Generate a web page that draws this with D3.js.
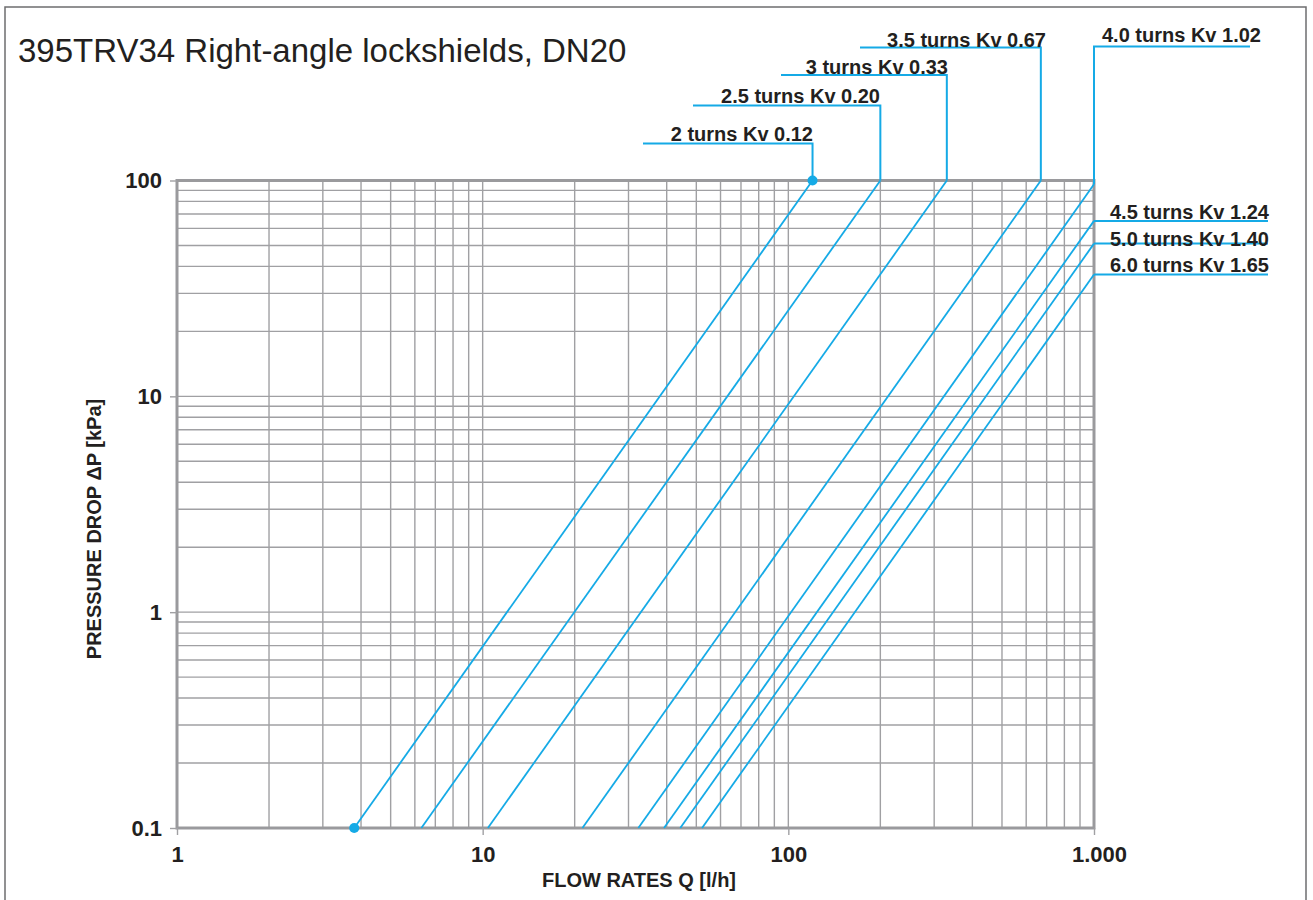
<!DOCTYPE html>
<html>
<head>
<meta charset="utf-8">
<script src="https://cdn.jsdelivr.net/npm/d3@7"></script>
<style>
  html, body { margin: 0; padding: 0; background: #fff; }
  svg { display: block; }
</style>
</head>
<body>
<div id="chart"></div>
<script>
// Series: each curve is a straight line on log-log axes
const turns = ['2', '2.5', '3', '3.5', '4.0', '4.5', '5.0', '6.0'];
const kvValues = ['0.12', '0.20', '0.33', '0.67', '1.02', '1.24', '1.40', '1.65'];
const flowAtLow = [3.8, 6.3, 10.4, 21.2, 32.3, 39.2, 44.3, 52.2]; // Q [l/h] at 0.1 kPa
const dropLow = [0.1, 0.1, 0.1, 0.1, 0.1, 0.1, 0.1, 0.1];
const flowAtTop = [120, 200, 330, 670, 1000, 1000, 1000, 1000]; // Q where the line leaves the grid
const dropAtTop = [100, 100, 100, 100, 96, 65, 51, 36.7]; // ΔP [kPa] there

const xTicks = [1, 10, 100, 1000];
const xTickLabels = ['1', '10', '100', '1.000'];
const yTicks = [0.1, 1, 10, 100];
const yTickLabels = ['0.1', '1', '10', '100'];

const width = 1313;
const height = 900;
const blue = '#15aae6';
const grey = '#a0a0a3';
const ink = '#231f20';
const font = '"Liberation Sans", Arial, Helvetica, sans-serif';

const series = turns.map((t, i) => ({
  name: `${t} turns Kv ${kvValues[i]}`,
  points: [
    { q: flowAtLow[i], p: dropLow[i] },
    { q: flowAtTop[i], p: dropAtTop[i] },
  ],
}));

// label placement (pixels): leader line row and text anchor
const labelLayout = [
  { kind: 'top', lineX: 643, lineY: 143.5, textX: 813, textY: 141, anchor: 'end' },
  { kind: 'top', lineX: 693, lineY: 105.5, textX: 880, textY: 103, anchor: 'end' },
  { kind: 'top', lineX: 781, lineY: 75, textX: 948, textY: 74, anchor: 'end' },
  { kind: 'top', lineX: 860, lineY: 47.5, textX: 1046, textY: 46.5, anchor: 'end' },
  { kind: 'corner', lineX: 1250, lineY: 46.5, textX: 1102, textY: 42, anchor: 'start' },
  { kind: 'right', lineX: 1268, textX: 1110, textY: 219, anchor: 'start' },
  { kind: 'right', lineX: 1268, textX: 1110, textY: 246, anchor: 'start' },
  { kind: 'right', lineX: 1268, textX: 1110, textY: 272, anchor: 'start' },
];

const x = d3.scaleLog().domain([1, 1000]).range([177, 1094]);
const y = d3.scaleLog().domain([0.1, 100]).range([828, 180.5]);

const svg = d3
  .select('#chart')
  .append('svg')
  .attr('width', width)
  .attr('height', height)
  .attr('font-family', font);

// outer frame
svg
  .append('rect')
  .attr('x', 5)
  .attr('y', 7)
  .attr('width', 1301)
  .attr('height', 900)
  .attr('fill', 'none')
  .attr('stroke', '#6d6d6f')
  .attr('stroke-width', 1.5);

svg
  .append('text')
  .attr('x', 18)
  .attr('y', 62)
  .attr('font-size', 33)
  .attr('fill', ink)
  .text('395TRV34 Right-angle lockshields, DN20');

// grid
const grid = svg.append('g').attr('stroke', grey).attr('stroke-width', 1.4);
grid
  .selectAll('line.v')
  .data(x.ticks())
  .join('line')
  .attr('class', 'v')
  .attr('x1', (d) => x(d))
  .attr('x2', (d) => x(d))
  .attr('y1', y(100))
  .attr('y2', y(0.1));
grid
  .selectAll('line.h')
  .data(y.ticks())
  .join('line')
  .attr('class', 'h')
  .attr('x1', x(1))
  .attr('x2', x(1000))
  .attr('y1', (d) => y(d))
  .attr('y2', (d) => y(d));

svg
  .append('rect')
  .attr('x', x(1))
  .attr('y', y(100))
  .attr('width', x(1000) - x(1))
  .attr('height', y(0.1) - y(100))
  .attr('fill', 'none')
  .attr('stroke', '#9a9a9d')
  .attr('stroke-width', 3);

// axes
const xAxis = svg
  .append('g')
  .attr('transform', `translate(0,${y(0.1)})`)
  .call(
    d3
      .axisBottom(x)
      .tickValues(xTicks)
      .tickFormat((d, i) => xTickLabels[i])
      .tickSize(7)
      .tickPadding(11),
  );
const yAxis = svg
  .append('g')
  .attr('transform', `translate(${x(1)},0)`)
  .call(
    d3
      .axisLeft(y)
      .tickValues(yTicks)
      .tickFormat((d, i) => yTickLabels[i])
      .tickSize(7)
      .tickPadding(8),
  );
[xAxis, yAxis].forEach((g) => {
  g.select('.domain').remove();
  g.selectAll('.tick line').attr('stroke', grey).attr('stroke-width', 1.4);
  g.selectAll('.tick text')
    .attr('font-family', font)
    .attr('font-size', 22)
    .attr('font-weight', 'bold')
    .attr('fill', ink);
});
xAxis.selectAll('.tick text').attr('dx', (d) => (d === 1000 ? 5 : 0));

svg
  .append('text')
  .attr('x', 639)
  .attr('y', 887)
  .attr('text-anchor', 'middle')
  .attr('font-size', 20)
  .attr('font-weight', 'bold')
  .attr('fill', ink)
  .text('FLOW RATES Q [l/h]');

svg
  .append('text')
  .attr('transform', 'translate(101,529) rotate(-90)')
  .attr('text-anchor', 'middle')
  .attr('font-size', 20)
  .attr('font-weight', 'bold')
  .attr('fill', ink)
  .text('PRESSURE DROP ΔP [kPa]');

// curves
const line = d3
  .line()
  .x((d) => x(d.q))
  .y((d) => y(d.p));
svg
  .append('g')
  .attr('fill', 'none')
  .attr('stroke', blue)
  .attr('stroke-width', 1.8)
  .selectAll('path')
  .data(series)
  .join('path')
  .attr('d', (d) => line(d.points));

// leaders
const leaderPath = (s, L) => {
  const end = s.points[1];
  const ex = x(end.q);
  const ey = y(end.p);
  if (L.kind === 'top') return `M${L.lineX},${L.lineY}H${ex}V${ey}`;
  if (L.kind === 'corner') return `M${ex},${ey}V${L.lineY}H${L.lineX}`;
  return `M${ex},${ey}H${L.lineX}`;
};
svg
  .append('g')
  .attr('fill', 'none')
  .attr('stroke', blue)
  .attr('stroke-width', 2)
  .selectAll('path')
  .data(series)
  .join('path')
  .attr('d', (d, i) => leaderPath(d, labelLayout[i]));

svg
  .append('g')
  .attr('font-size', 20)
  .attr('font-weight', 'bold')
  .attr('fill', ink)
  .selectAll('text')
  .data(series)
  .join('text')
  .attr('x', (d, i) => labelLayout[i].textX)
  .attr('y', (d, i) => labelLayout[i].textY)
  .attr('text-anchor', (d, i) => labelLayout[i].anchor)
  .text((d) => d.name);

// end markers of the first curve
svg
  .append('g')
  .attr('fill', blue)
  .selectAll('circle')
  .data(series[0].points)
  .join('circle')
  .attr('cx', (d) => x(d.q))
  .attr('cy', (d) => y(d.p))
  .attr('r', 5);
</script>
</body>
</html>
